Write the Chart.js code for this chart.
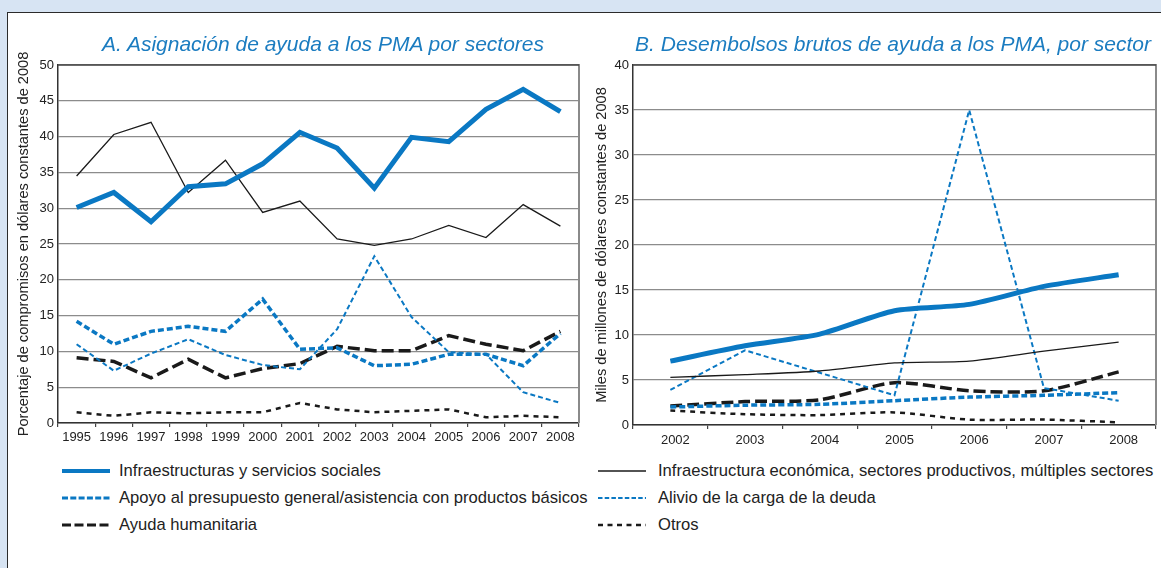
<!DOCTYPE html>
<html>
<head>
<meta charset="utf-8">
<script src="https://cdn.jsdelivr.net/npm/chart.js@4"></script>
<style>
  html, body { margin:0; padding:0; }
  body { width:1161px; height:568px; background:#d7e4f3; position:relative; overflow:hidden; font-family:"Liberation Sans", Arial, sans-serif; }
  #panel { position:absolute; left:7px; top:12px; width:1170px; height:570px; background:#fff; border:1.5px solid #2b2b2b; box-sizing:border-box; }
  .title { position:absolute; top:32px; font-size:21px; font-style:italic; color:#1b7cc0; white-space:nowrap; transform:translateX(-50%); line-height:24px; z-index:2; }
  canvas { position:absolute; }
  .leg { position:absolute; font-size:16.6px; color:#222; white-space:nowrap; height:20px; line-height:20px; }
  .leg svg { position:absolute; top:0; }
  .leg span { position:absolute; top:0; }
</style>
</head>
<body>
<div id="panel"></div>
<canvas id="cA" width="575" height="410" style="left:10px; top:45px;"></canvas>
<canvas id="cB" width="571" height="410" style="left:590px; top:45px;"></canvas>
<div class="title" style="left:323px;">A. Asignación de ayuda a los PMA por sectores</div>
<div class="title" style="left:893px;">B. Desembolsos brutos de ayuda a los PMA, por sector</div>
<div id="legend"></div>
<script>
// ---------- Data ----------
const seriesNames = [
  "Infraestructuras y servicios sociales",
  "Infraestructura económica, sectores productivos, múltiples sectores",
  "Apoyo al presupuesto general/asistencia con productos básicos",
  "Alivio de la carga de la deuda",
  "Ayuda humanitaria",
  "Otros"
];

// Panel A: percentage of commitments (1995-2008)
const yearsA = ["1995","1996","1997","1998","1999","2000","2001","2002","2003","2004","2005","2006","2007","2008"];
const socialA   = [30.1, 32.2, 28.1, 33.0, 33.4, 36.2, 40.6, 38.4, 32.8, 39.9, 39.3, 43.8, 46.6, 43.5];
const economicA = [34.5, 40.3, 42.0, 32.2, 36.7, 29.4, 31.0, 25.7, 24.8, 25.7, 27.6, 25.9, 30.5, 27.5];
const budgetA   = [14.2, 11.0, 12.8, 13.5, 12.8, 17.3, 10.3, 10.5, 8.0, 8.2, 9.6, 9.6, 8.0, 12.5];
const debtA     = [11.0, 7.3, 9.7, 11.7, 9.5, 8.1, 7.5, 13.1, 23.3, 14.8, 9.9, 9.6, 4.3, 2.8];
const humanA    = [9.1, 8.6, 6.3, 8.9, 6.3, 7.6, 8.3, 10.7, 10.1, 10.1, 12.2, 11.0, 10.1, 12.8];
const otherA    = [1.5, 1.0, 1.5, 1.35, 1.5, 1.5, 2.8, 1.9, 1.5, 1.7, 1.9, 0.8, 1.0, 0.8];
const ticksA = { min:0, max:50, step:5 };

// Panel B: gross disbursements, billions of constant 2008 dollars (2002-2008)
const yearsB = ["2002","2003","2004","2005","2006","2007","2008"];
const socialB   = [7.1, 8.8, 10.1, 12.7, 13.4, 15.4, 16.7];
const economicB = [5.3, 5.6, 6.0, 6.9, 7.1, 8.2, 9.2];
const budgetB   = [2.0, 2.2, 2.3, 2.7, 3.1, 3.3, 3.6];
const debtB     = [3.9, 8.3, 5.8, 3.3, 35.0, 4.1, 2.7];
const humanB    = [2.1, 2.6, 2.8, 4.7, 3.8, 3.8, 5.9];
const otherB    = [1.6, 1.2, 1.1, 1.4, 0.6, 0.6, 0.3];
const ticksB = { min:0, max:40, step:5 };

// ---------- Styles ----------
const BLUE = "#0a78c3", BLACK = "#1a1a1a";
const styles = [
  { color:BLUE,  width:5,   dash:[],     legW:4,   legDash:"" },
  { color:BLACK, width:1.3, dash:[],     legW:1.3, legDash:"" },
  { color:BLUE,  width:3.5, dash:[6,3],  legW:3,   legDash:"6,2.3" },
  { color:BLUE,  width:2,   dash:[5,3],  legW:2,   legDash:"4.5,2.2" },
  { color:BLACK, width:3.5, dash:[12,5], legW:3,   legDash:"9,3.5" },
  { color:BLACK, width:2.5, dash:[5,5],  legW:2.5, legDash:"5,4.5" }
];

function buildDatasets(arrays, tensions) {
  return arrays.map((d, i) => ({
    label: seriesNames[i],
    data: d,
    borderColor: styles[i].color,
    borderWidth: styles[i].width,
    borderDash: styles[i].dash,
    pointRadius: 0,
    fill: false,
    tension: tensions[i],
    borderCapStyle: 'butt',
    borderJoinStyle: 'miter'
  }));
}

const rightBorder = {
  id: 'rightBorder',
  afterDraw(chart) {
    const { ctx, chartArea } = chart;
    ctx.save();
    ctx.strokeStyle = '#8a8a8a';
    ctx.lineWidth = 2;
    ctx.beginPath();
    ctx.moveTo(chartArea.right, chartArea.top - 1);
    ctx.lineTo(chartArea.right, chartArea.bottom);
    ctx.stroke();
    ctx.strokeStyle = '#444';
    ctx.lineWidth = 1.3;
    ctx.beginPath();
    ctx.moveTo(chartArea.left, chartArea.top);
    ctx.lineTo(chartArea.right, chartArea.top);
    ctx.stroke();
    ctx.restore();
  }
};

const FONT = '"Liberation Sans", Arial, sans-serif';

function makeChart(id, labels, arrays, tick, yTitle, opts) {
  return new Chart(document.getElementById(id), {
    type: 'line',
    data: { labels: labels, datasets: buildDatasets(arrays, opts.tensions) },
    options: {
      responsive: false,
      animation: false,
      devicePixelRatio: 1,
      layout: { padding: { top: 20, right: opts.padRight, left: 0, bottom: 0 } },
      plugins: { legend: { display: false }, tooltip: { enabled: false }, title: { display: false } },
      scales: {
        x: {
          offset: true,
          grid: { offset: true, drawOnChartArea: false, drawTicks: true, tickLength: 4, color: '#444', lineWidth: 1.2 },
          border: { display: true, color: '#333', width: 1.5 },
          ticks: { color: '#222', font: { size: 13, family: FONT }, padding: opts.xPad, maxRotation: 0, autoSkip: false, labelOffset: opts.labelOffset },
          afterFit: s => { s.height = opts.xH; }
        },
        y: {
          min: tick.min, max: tick.max,
          ticks: { stepSize: tick.step, color: '#222', font: { size: 13, family: FONT }, padding: 4 },
          grid: { color: '#8c8c8c', lineWidth: 1.2, drawTicks: false },
          border: { display: true, color: '#333', width: 1.5 },
          title: { display: true, text: yTitle, color: '#222', font: { size: 14.6, family: FONT }, padding: { top: opts.titlePad, bottom: 0 } },
          afterFit: s => { s.width = opts.yW; }
        }
      }
    },
    plugins: [rightBorder]
  });
}

makeChart('cA', yearsA, [socialA, economicA, budgetA, debtA, humanA, otherA], ticksA,
  "Porcentaje de compromisos en dólares constantes de 2008",
  { tensions: [0,0,0,0,0,0], padRight: 6, xH: 32, yW: 48, xPad: 3, labelOffset: 0, titlePad: 5 });

makeChart('cB', yearsB, [socialB, economicB, budgetB, debtB, humanB, otherB], ticksB,
  "Miles de millones de dólares constantes de 2008",
  { tensions: [0.25,0.25,0.25,0,0.25,0.25], padRight: 5, xH: 30, yW: 43, xPad: 4, labelOffset: 5, titlePad: 3 });

// ---------- Legend (HTML) ----------
const legendLayout = [
  { i:0, x:62,  y:461 }, { i:1, x:598, y:461 },
  { i:2, x:62,  y:488 }, { i:3, x:598, y:488 },
  { i:4, x:62,  y:515 }, { i:5, x:598, y:515 }
];
const legend = document.getElementById('legend');
legendLayout.forEach(l => {
  const st = styles[l.i];
  const textX = l.i % 2 === 0 ? 57 : 60;
  const div = document.createElement('div');
  div.className = 'leg';
  div.style.left = l.x + 'px';
  div.style.top = l.y + 'px';
  div.innerHTML = '<svg width="48" height="20"><line x1="0" y1="10" x2="48" y2="10" stroke="' + st.color +
    '" stroke-width="' + st.legW + '"' + (st.legDash ? ' stroke-dasharray="' + st.legDash + '"' : '') +
    '/></svg><span style="left:' + textX + 'px">' + seriesNames[l.i] + '</span>';
  legend.appendChild(div);
});
</script>
</body>
</html>
